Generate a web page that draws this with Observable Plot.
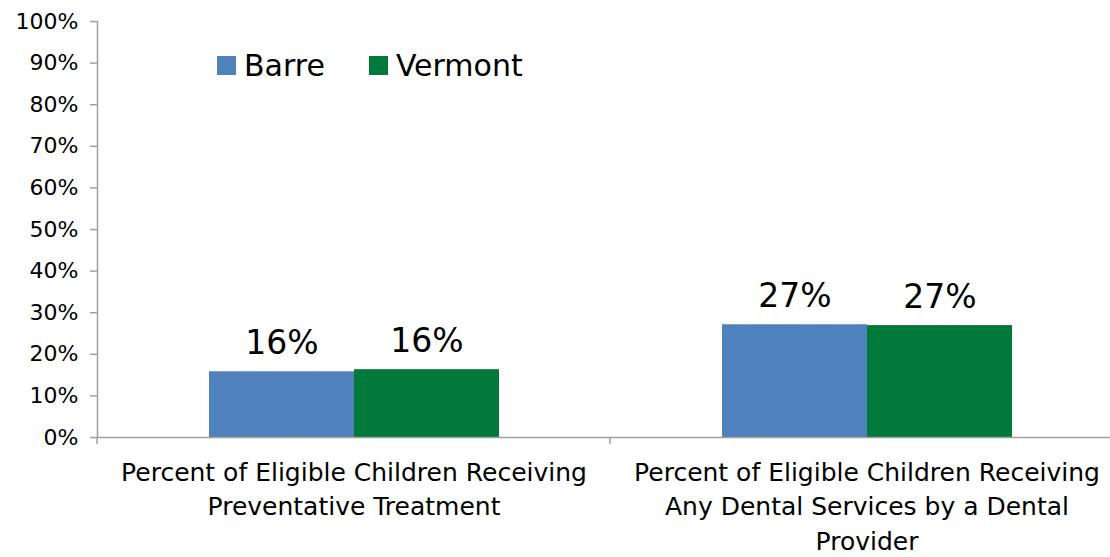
<!DOCTYPE html>
<html>
<head>
<meta charset="utf-8">
<script src="https://cdn.jsdelivr.net/npm/d3@7"></script>
<script src="https://cdn.jsdelivr.net/npm/@observablehq/plot@0.6"></script>
<style>
  html, body { margin: 0; padding: 0; background: #fff; }
  #wrap { position: relative; width: 1110px; height: 557px; font-family: "DejaVu Sans", sans-serif; }
  #legend { position: absolute; left: 217px; top: 48px; display: flex; align-items: center; font-size: 30px; color: #000; }
  #legend .item { display: flex; align-items: center; margin-right: 44px; }
  #legend .sw { width: 19px; height: 19px; margin-right: 8px; }
</style>
</head>
<body>
<div id="wrap">
  <div id="legend"></div>
</div>
<script>
const categories = [
  "Percent of Eligible Children Receiving Preventative Treatment",
  "Percent of Eligible Children Receiving Any Dental Services by a Dental Provider"
];
const categoryLabels = [
  "Percent of Eligible Children Receiving\nPreventative Treatment",
  "Percent of Eligible Children Receiving\nAny Dental Services by a Dental\nProvider"
];
const series = ["Barre", "Vermont"];
const colors = ["#4F81BD", "#00793A"];
const barreValues = [0.158, 0.271];
const vermontValues = [0.163, 0.269];
const valueLabels = [["16%", "16%"], ["27%", "27%"]];
const yTicks = [0, 0.1, 0.2, 0.3, 0.4, 0.5, 0.6, 0.7, 0.8, 0.9, 1.0];

const rows = [];
categories.forEach((c, i) => {
  rows.push({category: c, series: "Barre", value: barreValues[i], label: valueLabels[i][0]});
  rows.push({category: c, series: "Vermont", value: vermontValues[i], label: valueLabels[i][1]});
});
const labelRows = categories.map((c, i) => ({category: c, text: categoryLabels[i]}));

const axisGray = "#A0A0A0";

const facetTicks = (index, scales, values, dimensions) => {
  const y0 = scales.y(0);
  const g = d3.create("svg:g");
  g.append("line")
    .attr("x1", dimensions.marginLeft).attr("x2", dimensions.marginLeft)
    .attr("y1", y0).attr("y2", y0 + 7)
    .attr("stroke", axisGray).attr("stroke-width", 1.5);
  return g.node();
};

const chart = Plot.plot({
  width: 1110,
  height: 557,
  marginTop: 21,
  marginBottom: 120,
  marginLeft: 97,
  marginRight: 0,
  style: {fontFamily: "DejaVu Sans, sans-serif", color: "#000", background: "#fff"},
  fx: {domain: categories, range: [97, 1123], padding: 0, axis: null},
  x: {domain: series, paddingInner: 0, paddingOuter: 0.757, axis: null},
  y: {domain: [0, 1], axis: null},
  color: {domain: series, range: colors},
  marks: [
    Plot.barY(rows, {fx: "category", x: "series", y: "value", fill: "series"}),
    Plot.text(rows, {fx: "category", x: "series", y: "value", text: "label", lineAnchor: "bottom", dy: -18, fontSize: 33, fill: "#000"}),
    Plot.ruleY([0], {stroke: axisGray, strokeWidth: 1.5}),
    Plot.frame({anchor: "left", stroke: axisGray, strokeWidth: 1.5, facetAnchor: "left"}),
    facetTicks,
    Plot.axisY({ticks: yTicks, tickFormat: d3.format(".0%"), label: null, tickSize: 7, tickPadding: 12, fontSize: 22, stroke: axisGray, strokeWidth: 1.5, fill: "#000", facetAnchor: "left"}),
    Plot.text(labelRows, {fx: "category", text: "text", frameAnchor: "bottom", lineAnchor: "top", dy: 19, fontSize: 25, lineHeight: 1.38, fill: "#000"})
  ]
});

document.getElementById("wrap").appendChild(chart);

const legend = d3.select("#legend");
series.forEach((s, i) => {
  const item = legend.append("div").attr("class", "item");
  item.append("div").attr("class", "sw").style("background", colors[i]);
  item.append("span").text(s);
});
</script>
</body>
</html>
